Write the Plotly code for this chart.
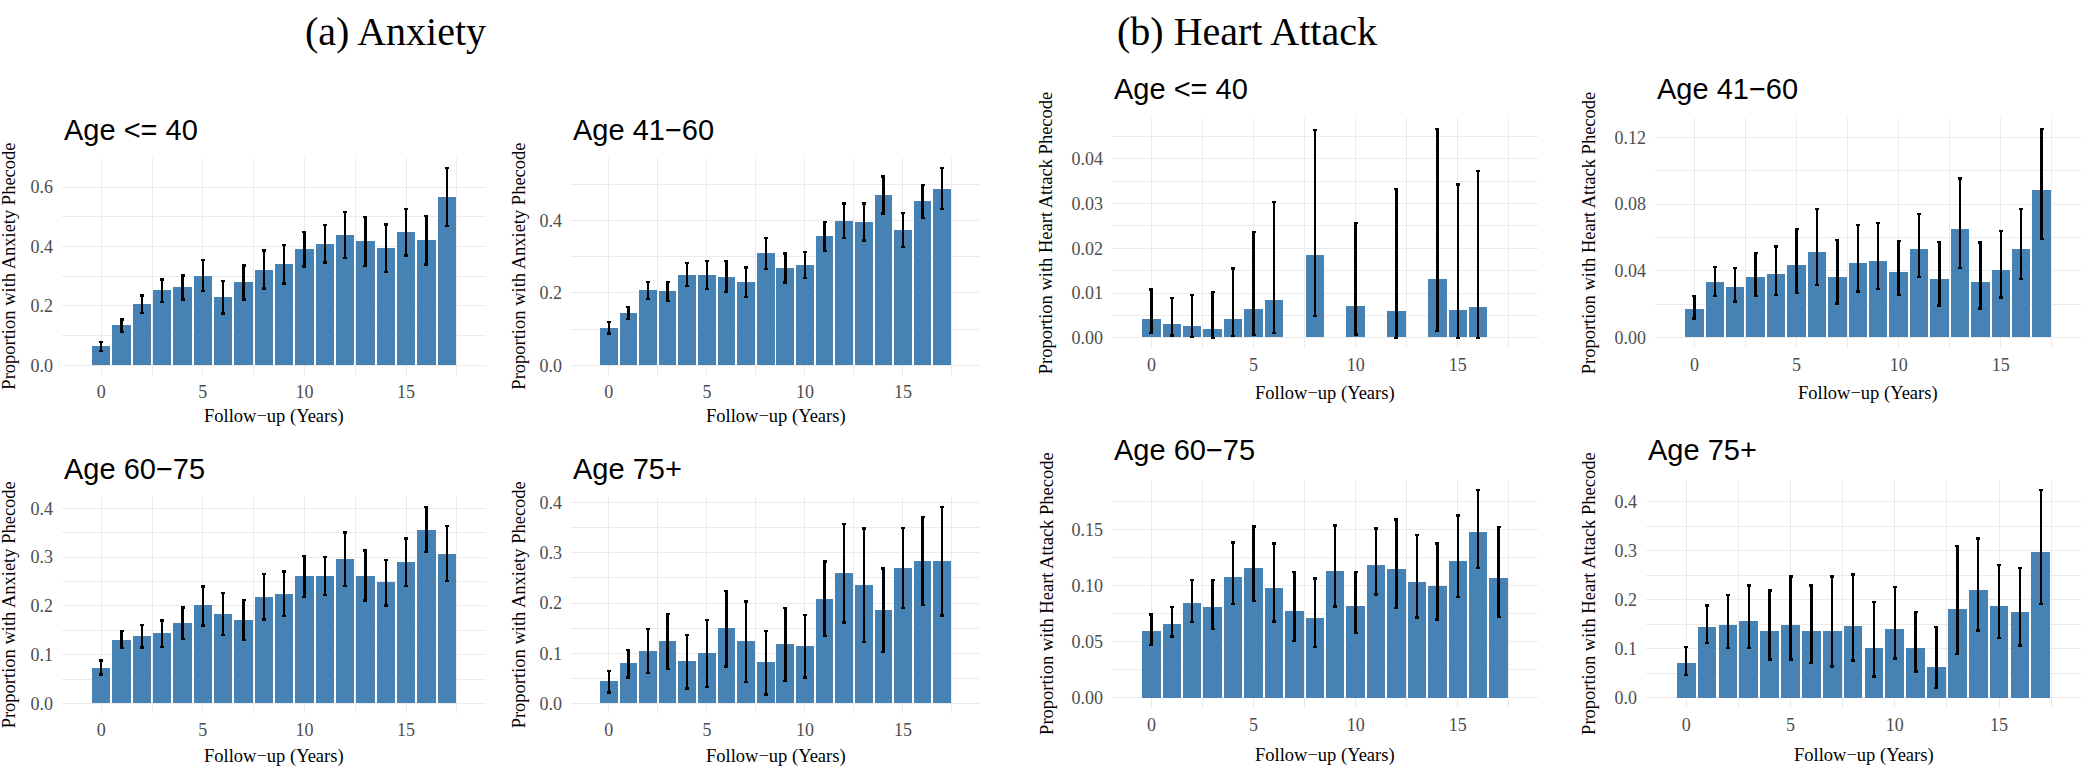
import plotly.graph_objects as go

W, H = 2100, 768

# ---------------- data ----------------
YEARS = list(range(18))
HA_LE40_YEARS = [0, 1, 2, 3, 4, 5, 6, 8, 10, 12, 14, 15, 16]

# (a) Anxiety
anx_le40 = [0.064, 0.134, 0.206, 0.251, 0.262, 0.301, 0.229, 0.279, 0.321, 0.340, 0.390, 0.408, 0.438, 0.418, 0.394, 0.449, 0.422, 0.565]
anx_le40_lo = [0.048, 0.112, 0.176, 0.213, 0.221, 0.249, 0.174, 0.221, 0.258, 0.275, 0.332, 0.346, 0.362, 0.335, 0.314, 0.369, 0.339, 0.469]
anx_le40_hi = [0.079, 0.154, 0.235, 0.288, 0.302, 0.355, 0.283, 0.336, 0.386, 0.404, 0.449, 0.472, 0.515, 0.500, 0.474, 0.527, 0.502, 0.664]

anx_41_60 = [0.103, 0.145, 0.207, 0.204, 0.250, 0.250, 0.245, 0.229, 0.309, 0.269, 0.276, 0.356, 0.400, 0.395, 0.472, 0.374, 0.453, 0.488]
anx_41_60_lo = [0.088, 0.128, 0.183, 0.177, 0.219, 0.211, 0.203, 0.189, 0.267, 0.229, 0.241, 0.317, 0.352, 0.345, 0.420, 0.328, 0.408, 0.433]
anx_41_60_hi = [0.119, 0.162, 0.231, 0.231, 0.283, 0.289, 0.289, 0.271, 0.353, 0.309, 0.314, 0.396, 0.448, 0.448, 0.523, 0.421, 0.499, 0.546]

anx_60_75 = [0.072, 0.130, 0.138, 0.143, 0.165, 0.200, 0.182, 0.170, 0.218, 0.224, 0.260, 0.261, 0.295, 0.261, 0.247, 0.289, 0.355, 0.306]
anx_60_75_lo = [0.059, 0.114, 0.115, 0.116, 0.132, 0.160, 0.140, 0.130, 0.172, 0.179, 0.218, 0.222, 0.241, 0.211, 0.201, 0.241, 0.310, 0.251]
anx_60_75_hi = [0.088, 0.149, 0.161, 0.170, 0.197, 0.240, 0.226, 0.212, 0.265, 0.270, 0.302, 0.300, 0.350, 0.313, 0.294, 0.338, 0.402, 0.364]

anx_75p = [0.043, 0.080, 0.103, 0.124, 0.083, 0.100, 0.149, 0.123, 0.081, 0.117, 0.114, 0.208, 0.259, 0.236, 0.185, 0.270, 0.284, 0.283]
anx_75p_lo = [0.022, 0.052, 0.061, 0.069, 0.030, 0.033, 0.074, 0.043, 0.018, 0.045, 0.052, 0.134, 0.161, 0.123, 0.103, 0.190, 0.196, 0.175]
anx_75p_hi = [0.065, 0.107, 0.148, 0.178, 0.136, 0.166, 0.224, 0.203, 0.144, 0.190, 0.176, 0.283, 0.358, 0.349, 0.269, 0.350, 0.371, 0.391]

# (b) Heart Attack
ha_le40 = [0.0041, 0.0029, 0.0025, 0.0018, 0.0042, 0.0064, 0.0084, 0.0184, 0.0070, 0.0059, 0.0130, 0.0061, 0.0067]
ha_le40_lo = [0.0010, 0.0005, 0.0002, 0.0000, 0.0004, 0.0006, 0.0010, 0.0049, 0.0007, 0.0000, 0.0015, 0.0000, 0.0000]
ha_le40_hi = [0.0108, 0.0089, 0.0096, 0.0102, 0.0155, 0.0236, 0.0304, 0.0465, 0.0256, 0.0332, 0.0467, 0.0343, 0.0373]

ha_41_60 = [0.0170, 0.0329, 0.0303, 0.0362, 0.0380, 0.0432, 0.0509, 0.0362, 0.0444, 0.0457, 0.0392, 0.0527, 0.0347, 0.0646, 0.0333, 0.0406, 0.0529, 0.0879]
ha_41_60_lo = [0.0115, 0.0250, 0.0216, 0.0250, 0.0255, 0.0269, 0.0317, 0.0206, 0.0277, 0.0291, 0.0255, 0.0362, 0.0194, 0.0418, 0.0176, 0.0240, 0.0352, 0.0592]
ha_41_60_hi = [0.0250, 0.0422, 0.0418, 0.0507, 0.0547, 0.0650, 0.0772, 0.0586, 0.0675, 0.0685, 0.0578, 0.0741, 0.0572, 0.0952, 0.0570, 0.0640, 0.0770, 0.1250]

ha_60_75 = [0.0597, 0.0665, 0.0850, 0.0812, 0.1085, 0.1165, 0.0988, 0.0776, 0.0718, 0.1138, 0.0821, 0.1191, 0.1150, 0.1038, 0.0997, 0.1224, 0.1479, 0.1074]
ha_60_75_lo = [0.0471, 0.0547, 0.0676, 0.0615, 0.0835, 0.0862, 0.0682, 0.0509, 0.0456, 0.0815, 0.0579, 0.0921, 0.0800, 0.0718, 0.0700, 0.0897, 0.1159, 0.0721]
ha_60_75_hi = [0.0744, 0.0809, 0.1053, 0.1050, 0.1385, 0.1526, 0.1376, 0.1121, 0.1065, 0.1535, 0.1121, 0.1509, 0.1591, 0.1450, 0.1376, 0.1626, 0.1853, 0.1521]

ha_75p = [0.0725, 0.1463, 0.1503, 0.1577, 0.1376, 0.1497, 0.1369, 0.1369, 0.1477, 0.1027, 0.1416, 0.1027, 0.0638, 0.1812, 0.2201, 0.1879, 0.1752, 0.2987]
ha_75p_lo = [0.0470, 0.1121, 0.1013, 0.1013, 0.0785, 0.0779, 0.0711, 0.0638, 0.0758, 0.0436, 0.0805, 0.0537, 0.0201, 0.0893, 0.1376, 0.1221, 0.1067, 0.1913]
ha_75p_hi = [0.1040, 0.1879, 0.2101, 0.2289, 0.2188, 0.2470, 0.2289, 0.2470, 0.2510, 0.1953, 0.2255, 0.1752, 0.1450, 0.3094, 0.3242, 0.2705, 0.2651, 0.4235]

GROUP_TITLES = ["(a) Anxiety", "(b) Heart Attack"]
XLABEL = "Follow\u2212up (Years)"
YLAB_ANX = "Proportion with Anxiety Phecode"
YLAB_HA = "Proportion with Heart Attack Phecode"

# ---------------- styling / layout ----------------
SERIF = "Liberation Serif, Times New Roman, serif"
SANS = "Liberation Sans, Arial, sans-serif"
BAR = "#4682B4"
GRID = "#EBEBEB"
TICKCOL = "#4D4D4D"

# panel: x, y, lo, hi, title, ylabel, (left, right, top, bottom px), ytick dtick, minor dtick, fmt,
#        ytitle x px, xtitle y px, panel-title y px
panels = [
    (YEARS, anx_le40, anx_le40_lo, anx_le40_hi, "Age <= 40", YLAB_ANX, (62, 486, 155, 373), 0.2, 0.1, ".1f", 9, 415, 127),
    (YEARS, anx_41_60, anx_41_60_lo, anx_41_60_hi, "Age 41\u221260", YLAB_ANX, (571, 980, 155, 373), 0.2, 0.1, ".1f", 519, 415, 127),
    (YEARS, anx_60_75, anx_60_75_lo, anx_60_75_hi, "Age 60\u221275", YLAB_ANX, (62, 486, 496, 713), 0.1, 0.05, ".1f", 9, 756, 467),
    (YEARS, anx_75p, anx_75p_lo, anx_75p_hi, "Age 75+", YLAB_ANX, (571, 980, 496, 713), 0.1, 0.05, ".1f", 519, 756, 467),
    (HA_LE40_YEARS, ha_le40, ha_le40_lo, ha_le40_hi, "Age <= 40", YLAB_HA, (1112, 1538, 115, 346), 0.01, 0.005, ".2f", 1046, 392, 85),
    (YEARS, ha_41_60, ha_41_60_lo, ha_41_60_hi, "Age 41\u221260", YLAB_HA, (1655, 2081, 115, 346), 0.04, 0.02, ".2f", 1589, 392, 85),
    (YEARS, ha_60_75, ha_60_75_lo, ha_60_75_hi, "Age 60\u221275", YLAB_HA, (1112, 1538, 478, 708), 0.05, 0.025, ".2f", 1047, 755, 448),
    (YEARS, ha_75p, ha_75p_lo, ha_75p_hi, "Age 75+", YLAB_HA, (1646, 2081, 478, 708), 0.1, 0.05, ".1f", 1589, 755, 448),
]

def px_x(x):
    return x / W

def px_y(y):
    return 1 - y / H

fig = go.Figure()
annotations = []
layout = {}

for i, (xs, vals, lo, hi, title, ylab, box, dt, mdt, fmt, ytx, xty, tty) in enumerate(panels):
    n = i + 1
    xa = "x" if n == 1 else f"x{n}"
    ya = "y" if n == 1 else f"y{n}"
    fig.add_trace(go.Bar(
        x=xs, y=vals, width=0.9, xaxis=xa, yaxis=ya,
        marker=dict(color=BAR, line=dict(width=0)),
        error_y=dict(type="data", symmetric=False,
                     array=[h - v for h, v in zip(hi, vals)],
                     arrayminus=[v - l for v, l in zip(vals, lo)],
                     color="black", thickness=2.4, width=2),
        showlegend=False,
    ))
    left, right, top, bottom = box
    ymax = max(hi)
    xkey = "xaxis" if n == 1 else f"xaxis{n}"
    ykey = "yaxis" if n == 1 else f"yaxis{n}"
    layout[xkey] = dict(
        domain=[px_x(left), px_x(right)], anchor=ya, range=[-1.93, 18.93],
        tickmode="linear", tick0=0, dtick=5, showgrid=True, gridcolor=GRID, gridwidth=1.4,
        minor=dict(tick0=0, dtick=2.5, showgrid=True, gridcolor=GRID, gridwidth=0.8),
        zeroline=False, showline=False, ticks="",
        tickfont=dict(family=SERIF, size=18, color=TICKCOL), ticklabelstandoff=4,
    )
    layout[ykey] = dict(
        domain=[px_y(bottom), px_y(top)], anchor=xa, range=[-0.05 * ymax, 1.05 * ymax],
        tickmode="linear", tick0=0, dtick=dt, tickformat=fmt,
        showgrid=True, gridcolor=GRID, gridwidth=1.4,
        minor=dict(tick0=0, dtick=mdt, showgrid=True, gridcolor=GRID, gridwidth=0.8),
        zeroline=False, showline=False, ticks="",
        tickfont=dict(family=SERIF, size=18, color=TICKCOL), ticklabelstandoff=8,
    )
    # panel title
    annotations.append(dict(text=title, x=px_x(left), y=px_y(tty), xref="paper", yref="paper",
                            xanchor="left", yanchor="middle", showarrow=False,
                            font=dict(family=SANS, size=29, color="black")))
    # y title
    annotations.append(dict(text=ylab, x=px_x(ytx), y=px_y((top + bottom) / 2), xref="paper", yref="paper",
                            xanchor="center", yanchor="middle", textangle=-90, showarrow=False,
                            font=dict(family=SERIF, size=18.5, color="black")))
    # x title
    annotations.append(dict(text=XLABEL, x=px_x((left + right) / 2), y=px_y(xty), xref="paper", yref="paper",
                            xanchor="center", yanchor="middle", showarrow=False,
                            font=dict(family=SERIF, size=18.5, color="black")))

# group titles
for t, cx in zip(GROUP_TITLES, [395, 1247]):
    annotations.append(dict(text=t, x=px_x(cx), y=px_y(28), xref="paper", yref="paper",
                            xanchor="center", yanchor="middle", showarrow=False,
                            font=dict(family=SERIF, size=40, color="black")))

fig.update_layout(
    width=W, height=H, margin=dict(l=0, r=0, t=0, b=0),
    paper_bgcolor="white", plot_bgcolor="white",
    bargap=0, annotations=annotations, showlegend=False,
    **layout,
)

fig.write_html("out.html", config={"displayModeBar": False},
               post_script="document.body.style.margin='0';document.body.style.padding='0';document.body.style.overflow='hidden';")
